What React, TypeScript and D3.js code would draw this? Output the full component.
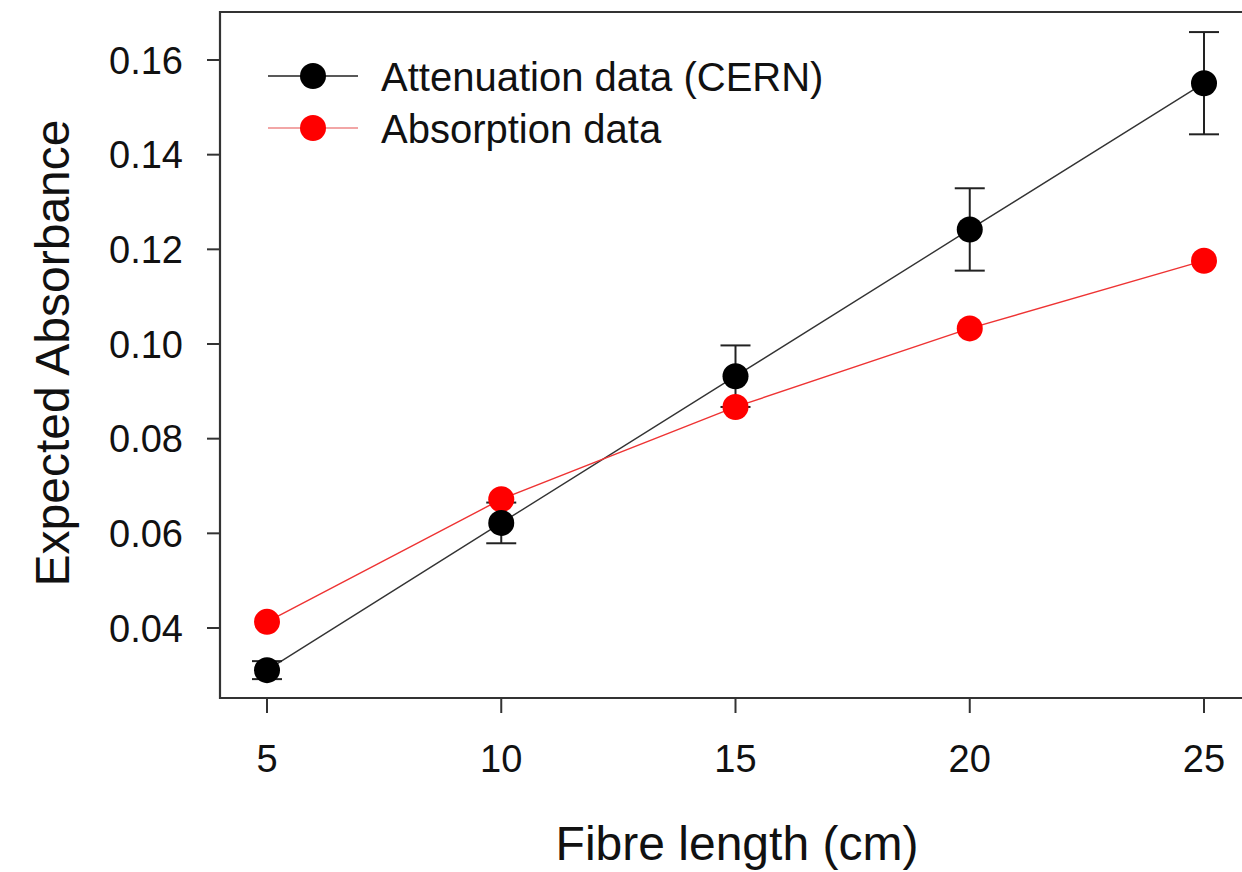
import React from "react";
import * as d3 from "d3";

// chart data
const fibreLengths = [5, 10, 15, 20, 25];
const attenuation = [0.0311, 0.0622, 0.0932, 0.1242, 0.1551];
const attenuationErr = [0.0019, 0.0043, 0.0065, 0.0087, 0.0108];
const absorption = [0.0413, 0.0672, 0.0867, 0.1033, 0.1176];
const xTicks = [5, 10, 15, 20, 25];
const yTicks = [0.04, 0.06, 0.08, 0.1, 0.12, 0.14, 0.16];

const W = 1242;
const H = 872;
const FONT = "'Liberation Sans', Arial, Helvetica, sans-serif";

function App() {
  // plot box
  const left = 220;
  const top = 12;
  const bottom = 698;
  const right = 1252;

  const x = d3.scaleLinear().domain([5, 25]).range([267, 1204]);
  const y = d3.scaleLinear().domain([0.04, 0.16]).range([628, 60]);

  const line = d3
    .line<number>()
    .x((_, i) => x(fibreLengths[i]))
    .y((d) => y(d));

  const r = 13;

  return (
    <svg
      width={W}
      height={H}
      style={{ position: "absolute", left: 0, top: 0, background: "#fff" }}
      fontFamily={FONT}
    >
      <rect x={0} y={0} width={W} height={H} fill="#fff" />

      {/* box */}
      <path
        d={`M${right},${top}H${left}V${bottom}H${right}`}
        fill="none"
        stroke="#333"
        strokeWidth={2.2}
      />

      {/* y axis */}
      {yTicks.map((t) => (
        <g key={t}>
          <line x1={left - 13} x2={left} y1={y(t)} y2={y(t)} stroke="#333" strokeWidth={2} />
          <text
            x={183}
            y={y(t)}
            dy="0.36em"
            textAnchor="end"
            fontSize={38}
            fill="#111"
          >
            {d3.format(".2f")(t)}
          </text>
        </g>
      ))}

      {/* x axis */}
      {xTicks.map((t) => (
        <g key={t}>
          <line x1={x(t)} x2={x(t)} y1={bottom} y2={bottom + 15} stroke="#333" strokeWidth={2} />
          <text x={x(t)} y={772} textAnchor="middle" fontSize={38} fill="#111">
            {t}
          </text>
        </g>
      ))}

      <text x={737} y={860} textAnchor="middle" fontSize={48} fill="#111">
        Fibre length (cm)
      </text>
      <text
        transform={`translate(69,353) rotate(-90)`}
        textAnchor="middle"
        fontSize={48}
        fill="#111"
      >
        Expected Absorbance
      </text>

      {/* series lines */}
      <path d={line(attenuation) || ""} fill="none" stroke="#333" strokeWidth={1.4} />
      <path d={line(absorption) || ""} fill="none" stroke="#e33" strokeWidth={1.4} />

      {/* error bars */}
      {attenuation.map((v, i) => {
        const cx = x(fibreLengths[i]);
        const e = attenuationErr[i];
        return (
          <g key={i} stroke="#222" strokeWidth={2}>
            <line x1={cx} x2={cx} y1={y(v - e)} y2={y(v + e)} />
            <line x1={cx - 15} x2={cx + 15} y1={y(v - e)} y2={y(v - e)} />
            <line x1={cx - 15} x2={cx + 15} y1={y(v + e)} y2={y(v + e)} />
          </g>
        );
      })}

      {/* points */}
      {absorption.map((v, i) => (
        <circle key={"a" + i} cx={x(fibreLengths[i])} cy={y(v)} r={r} fill="#f00" />
      ))}
      {attenuation.map((v, i) => (
        <circle key={"t" + i} cx={x(fibreLengths[i])} cy={y(v)} r={r} fill="#000" />
      ))}

      {/* legend */}
      <g>
        <line x1={268} x2={358} y1={76} y2={76} stroke="#222" strokeWidth={1.5} />
        <circle cx={313} cy={76} r={r} fill="#000" />
        <text x={381} y={77} dy="0.36em" fontSize={40} fill="#111">
          Attenuation data (CERN)
        </text>
        <line x1={268} x2={358} y1={128} y2={128} stroke="#e88" strokeWidth={1.5} />
        <circle cx={313} cy={128} r={r} fill="#f00" />
        <text x={381} y={129} dy="0.36em" fontSize={40} fill="#111">
          Absorption data
        </text>
      </g>
    </svg>
  );
}

export default App;
